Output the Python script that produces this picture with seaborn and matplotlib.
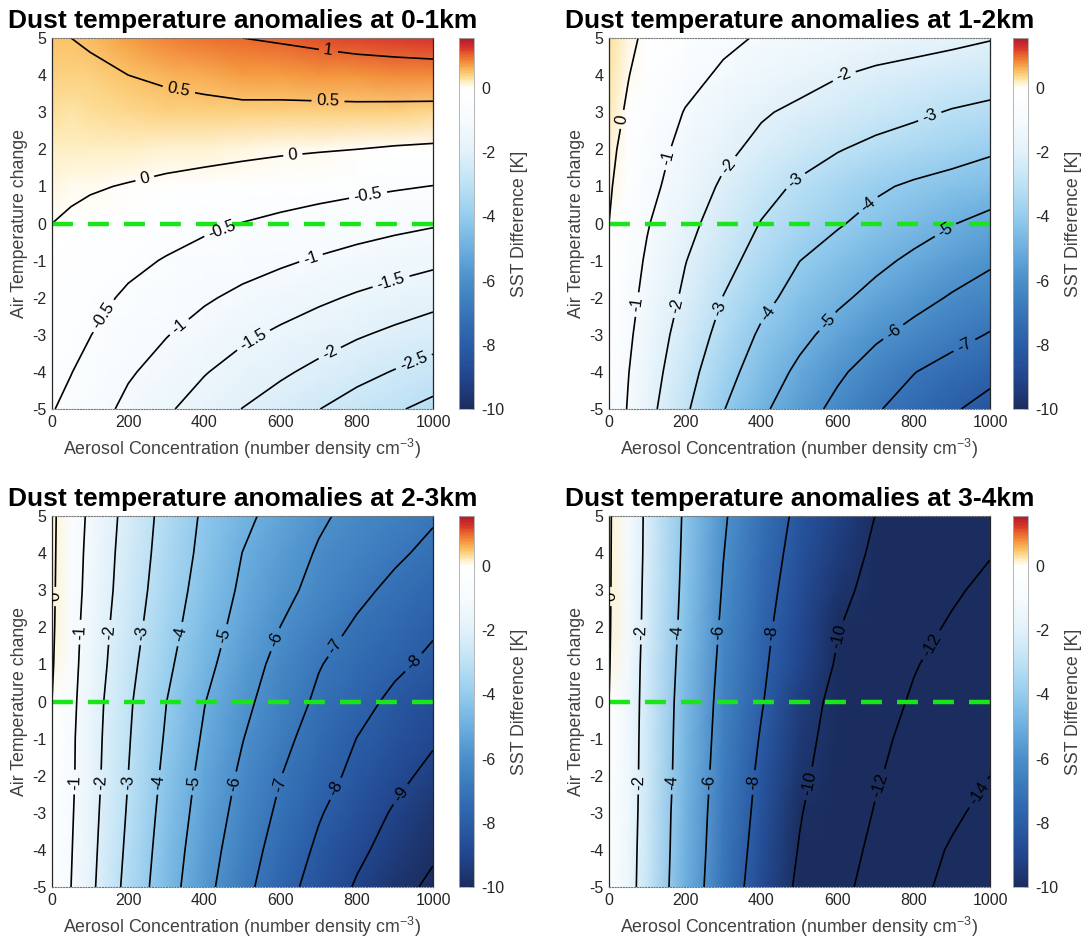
import numpy as np
import matplotlib
matplotlib.use("Agg")
import matplotlib.pyplot as plt
from matplotlib.colors import LinearSegmentedColormap
import seaborn as sns

# ---------------- data ----------------
aerosol = [0, 50, 100, 200, 300, 400, 500, 600, 700, 800, 900, 1000]
air_temp = [-5, -4, -3, -2, -1, 0, 1, 2, 3, 4, 5]

sst_0_1km = [
    [-0.48, -0.60, -0.75, -1.13, -1.43, -1.73, -2.01, -2.25, -2.49, -2.73, -2.94, -3.15],
    [-0.38, -0.49, -0.62, -0.94, -1.20, -1.47, -1.71, -1.92, -2.13, -2.34, -2.53, -2.71],
    [-0.29, -0.38, -0.49, -0.76, -0.98, -1.20, -1.41, -1.59, -1.77, -1.95, -2.11, -2.27],
    [-0.19, -0.27, -0.36, -0.57, -0.75, -0.94, -1.11, -1.26, -1.41, -1.56, -1.70, -1.83],
    [-0.10, -0.16, -0.23, -0.39, -0.53, -0.67, -0.81, -0.93, -1.05, -1.17, -1.28, -1.39],
    [0.00, -0.05, -0.10, -0.20, -0.30, -0.41, -0.51, -0.60, -0.69, -0.78, -0.87, -0.95],
    [0.10, 0.06, 0.03, -0.02, -0.08, -0.14, -0.21, -0.27, -0.33, -0.39, -0.45, -0.51],
    [0.19, 0.17, 0.16, 0.17, 0.15, 0.13, 0.10, 0.06, 0.03, 0.00, -0.04, -0.07],
    [0.29, 0.28, 0.29, 0.36, 0.38, 0.39, 0.40, 0.39, 0.39, 0.39, 0.38, 0.37],
    [0.38, 0.39, 0.42, 0.50, 0.56, 0.62, 0.70, 0.72, 0.75, 0.78, 0.80, 0.81],
    [0.48, 0.50, 0.55, 0.73, 0.83, 0.92, 1.00, 1.05, 1.11, 1.17, 1.21, 1.25],
]

sst_1_2km = [
    [-0.40, -1.05, -1.69, -2.86, -3.96, -4.83, -5.57, -6.25, -6.91, -7.41, -7.89, -8.34],
    [-0.30, -0.97, -1.55, -2.62, -3.64, -4.48, -5.19, -5.84, -6.42, -6.97, -7.38, -7.72],
    [-0.22, -0.85, -1.42, -2.39, -3.31, -4.14, -4.76, -5.33, -5.85, -6.28, -6.67, -7.06],
    [-0.15, -0.73, -1.25, -2.16, -3.02, -3.74, -4.33, -4.83, -5.27, -5.69, -6.08, -6.40],
    [-0.07, -0.60, -1.11, -1.97, -2.70, -3.36, -3.99, -4.39, -4.79, -5.17, -5.53, -5.87],
    [0.00, -0.47, -0.94, -1.73, -2.41, -3.04, -3.48, -3.92, -4.28, -4.62, -4.96, -5.28],
    [0.07, -0.32, -0.73, -1.47, -2.13, -2.67, -3.14, -3.51, -3.87, -4.13, -4.32, -4.52],
    [0.14, -0.20, -0.59, -1.26, -1.80, -2.23, -2.59, -2.95, -3.23, -3.42, -3.64, -3.87],
    [0.21, -0.07, -0.40, -1.04, -1.48, -1.91, -2.18, -2.40, -2.62, -2.84, -3.06, -3.21],
    [0.27, 0.02, -0.23, -0.73, -1.13, -1.41, -1.68, -1.96, -2.17, -2.30, -2.43, -2.57],
    [0.33, 0.10, -0.09, -0.45, -0.82, -1.08, -1.22, -1.37, -1.51, -1.66, -1.80, -1.95],
]

sst_2_3km = [
    [-0.30, -1.00, -1.78, -3.30, -4.56, -5.71, -6.71, -7.61, -8.40, -9.09, -9.66, -10.20],
    [-0.25, -0.95, -1.72, -3.19, -4.46, -5.56, -6.54, -7.39, -8.16, -8.81, -9.35, -9.85],
    [-0.20, -0.90, -1.66, -3.09, -4.35, -5.41, -6.35, -7.18, -7.92, -8.53, -9.10, -9.60],
    [-0.15, -0.85, -1.60, -3.00, -4.23, -5.28, -6.17, -6.98, -7.64, -8.23, -8.76, -9.24],
    [-0.10, -0.84, -1.57, -2.93, -4.10, -5.12, -5.97, -6.75, -7.40, -8.01, -8.45, -8.89],
    [0.00, -0.78, -1.52, -2.86, -3.99, -4.97, -5.76, -6.50, -7.16, -7.69, -8.20, -8.67],
    [0.07, -0.73, -1.41, -2.73, -3.81, -4.74, -5.56, -6.28, -6.95, -7.40, -7.83, -8.20],
    [0.11, -0.67, -1.36, -2.60, -3.64, -4.55, -5.33, -6.01, -6.60, -7.12, -7.50, -7.89],
    [0.13, -0.62, -1.27, -2.48, -3.50, -4.38, -5.15, -5.74, -6.28, -6.78, -7.21, -7.58],
    [0.14, -0.57, -1.23, -2.40, -3.39, -4.24, -5.01, -5.56, -6.08, -6.46, -6.85, -7.22],
    [0.15, -0.53, -1.16, -2.32, -3.31, -4.14, -4.78, -5.35, -5.87, -6.25, -6.57, -6.90],
]

sst_3_4km = [
    [-0.30, -1.46, -2.70, -4.96, -7.06, -8.78, -10.27, -11.54, -12.60, -13.55, -14.45, -15.30],
    [-0.25, -1.43, -2.64, -4.89, -6.93, -8.61, -10.08, -11.28, -12.36, -13.27, -14.17, -15.00],
    [-0.20, -1.38, -2.58, -4.85, -6.81, -8.45, -9.90, -11.03, -12.10, -12.91, -13.71, -14.50],
    [-0.15, -1.35, -2.53, -4.74, -6.70, -8.30, -9.67, -10.80, -11.86, -12.61, -13.30, -14.00],
    [-0.10, -1.32, -2.51, -4.68, -6.58, -8.11, -9.47, -10.62, -11.64, -12.43, -13.10, -13.77],
    [0.00, -1.28, -2.48, -4.62, -6.47, -7.91, -9.28, -10.43, -11.33, -12.18, -12.85, -13.53],
    [0.07, -1.24, -2.43, -4.51, -6.35, -7.78, -9.00, -10.13, -11.01, -11.90, -12.55, -13.18],
    [0.11, -1.19, -2.35, -4.40, -6.22, -7.65, -8.84, -9.93, -10.72, -11.48, -12.19, -12.80],
    [0.13, -1.15, -2.31, -4.31, -6.09, -7.50, -8.65, -9.64, -10.43, -11.10, -11.77, -12.40],
    [0.14, -1.11, -2.26, -4.24, -5.97, -7.35, -8.47, -9.41, -10.21, -10.78, -11.36, -11.91],
    [0.15, -1.08, -2.24, -4.18, -5.85, -7.17, -8.30, -9.17, -10.02, -10.57, -11.12, -11.67],
]

titles = ["Dust temperature anomalies at 0-1km", "Dust temperature anomalies at 1-2km",
          "Dust temperature anomalies at 2-3km", "Dust temperature anomalies at 3-4km"]
levels_0_1km = [-3, -2.5, -2, -1.5, -1, -0.5, 0, 0.5, 1]
levels_1_2km = [-8, -7, -6, -5, -4, -3, -2, -1, 0]
levels_2_3km = [-10, -9, -8, -7, -6, -5, -4, -3, -2, -1, 0]
levels_3_4km = [-14, -12, -10, -8, -6, -4, -2, 0]
x_ticks = [0, 200, 400, 600, 800, 1000]
y_ticks = [-5, -4, -3, -2, -1, 0, 1, 2, 3, 4, 5]
cbar_ticks = [-10, -8, -6, -4, -2, 0]

# ---------------- style ----------------
sns.set_style("white")
plt.rcParams["font.family"] = ["Liberation Sans", "DejaVu Sans"]
plt.rcParams["mathtext.fontset"] = "custom"
plt.rcParams["mathtext.rm"] = "Liberation Sans"
plt.rcParams["mathtext.default"] = "regular"
plt.rcParams["axes.unicode_minus"] = False

vmin, vmax = -10.0, 1.55
cmap_nodes = [-10, -9, -8, -7, -6, -5, -4, -3, -2, -1, 0, 0.15, 0.3, 0.5, 0.75, 1.0, 1.25, 1.55]
cmap_cols = ["#1b2d5e", "#22468f", "#2a5ea7", "#3875b9", "#4b8fca", "#6cafdf", "#94ccee",
             "#bde2f5", "#e2f1fa", "#f6fbfe", "#ffffff", "#fff3d2", "#fde3a2", "#fbc46a",
             "#f59b40", "#ec6a2b", "#d8362a", "#b31a2b"]
pos = [(v - vmin) / (vmax - vmin) for v in cmap_nodes]
cmap = LinearSegmentedColormap.from_list("sst", list(zip(pos, cmap_cols)))


def label_positions(ax, cs, first=105.0, step=150.0, margin=15.0):
    """MATLAB-like label spacing: points along each contour line at fixed
    display-space distances, measured from the lower end of the line."""
    out = []
    tr = ax.transData
    inv = tr.inverted()
    for segs in cs.allsegs:
        for seg in segs:
            if len(seg) < 2:
                continue
            disp = tr.transform(seg)
            if disp[-1, 1] < disp[0, 1]:
                disp = disp[::-1]
            d = np.r_[0.0, np.cumsum(np.hypot(*np.diff(disp, axis=0).T))]
            total = d[-1]
            if total < first + margin:
                marks = [0.6 * total] if total > 60 else []
            else:
                marks = list(np.arange(first, total - margin, step))
            for s in marks:
                px = np.interp(s, d, disp[:, 0])
                py = np.interp(s, d, disp[:, 1])
                out.append(tuple(inv.transform((px, py))))
    return out


fig = plt.figure(figsize=(10.84, 9.46), dpi=100)
W, H = 1084.0, 946.0

panels = [
    (sst_0_1km, levels_0_1km, 52, 38, 459),
    (sst_1_2km, levels_1_2km, 609, 38, 1013),
    (sst_2_3km, levels_2_3km, 52, 516, 459),
    (sst_3_4km, levels_3_4km, 609, 516, 1013),
]
ax_w, ax_h = 381, 371
text_col = "#262626"

for (data, levels, left, top, cbx), title in zip(panels, titles):
    ax = fig.add_axes([left / W, 1 - (top + ax_h) / H, ax_w / W, ax_h / H])
    Z = np.array(data)
    mesh = ax.pcolormesh(aerosol, air_temp, Z, shading="gouraud", cmap=cmap,
                         vmin=vmin, vmax=vmax, rasterized=True)
    ax.set_xlim(0, 1000)
    ax.set_ylim(-5, 5)
    cs = ax.contour(aerosol, air_temp, Z, levels=levels, colors="k",
                    linewidths=1.2, linestyles="solid")
    ax.set_xlim(0, 1000)
    ax.set_ylim(-5, 5)
    ax.clabel(cs, inline=True, fontsize=12, fmt="%g", inline_spacing=5,
              manual=label_positions(ax, cs))
    ax.axhline(0, color="#18e618", lw=3.2, dashes=(4.7, 3.4))
    ax.set_xticks(x_ticks)
    ax.set_yticks(y_ticks)
    ax.tick_params(direction="in", length=3, width=0.6, labelsize=11.5,
                   colors=text_col, pad=4)
    for s in ["left", "right"]:
        ax.spines[s].set_color(text_col)
        ax.spines[s].set_linewidth(0.9)
    for s in ["top", "bottom"]:
        ax.spines[s].set_color("#777777")
        ax.spines[s].set_linewidth(0.8)
        ax.spines[s].set_linestyle((0, (1, 1.5)))
    ax.set_xlabel("Aerosol Concentration (number density cm$^{-3}$)", fontsize=12.8,
                  color="#404040", labelpad=5)
    ax.set_ylabel("Air Temperature change", fontsize=12.8, color="#404040", labelpad=3)
    ax.set_title(title, fontsize=19, fontweight="bold", color="black", pad=7)

    cax = fig.add_axes([cbx / W, 1 - (top + ax_h) / H, 15 / W, ax_h / H])
    cb = fig.colorbar(mesh, cax=cax, ticks=cbar_ticks)
    cb.outline.set_edgecolor("#aaaaaa")
    cb.outline.set_linewidth(0.6)
    cax.tick_params(direction="in", length=3, width=0.6, color="#888888",
                    labelsize=11.5, labelcolor=text_col, pad=5)
    cb.set_label("SST Difference [K]", fontsize=12.8, color="#404040", labelpad=5)

fig.savefig("out.png", dpi=100)
